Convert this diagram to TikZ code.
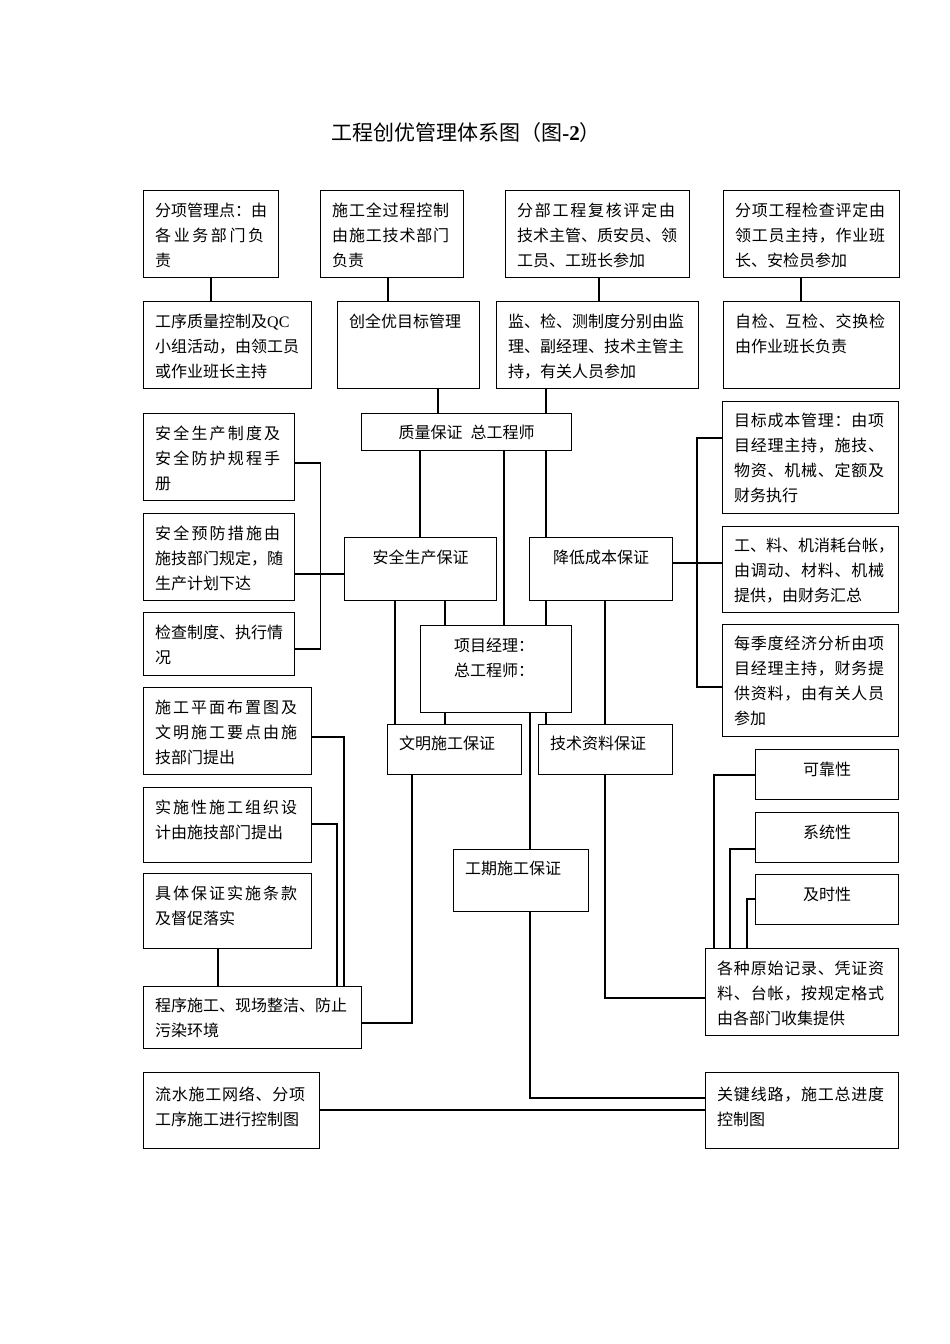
\documentclass[tikz,border=0pt]{standalone}
\usepackage{fontspec}
\newfontfamily\cjk{Noto Sans CJK SC}
\newfontfamily\tnr{Liberation Serif}
\def\jlgobble#1{}
\def\jlA#1#2{#1\ifx\relax#2\expandafter\jlgobble\else\hfill\expandafter\jlA\fi#2}
\newcommand\jl[2]{\hbox to #1pt{\jlA#2\relax}}
\tikzset{
  bx/.style={draw, line width=1.1pt, inner sep=0pt, anchor=north west},
  tx/.style={inner sep=0pt, align=left, anchor=north west, font=\cjk\fontsize{16}{25}\selectfont},
  txc/.style={inner sep=0pt, align=center, anchor=north, font=\cjk\fontsize{16}{25}\selectfont},
  ln/.style={line width=1.1pt},
  thk/.style={line width=2.6pt},
  mid/.style={line width=1.8pt},
}
\newcommand\mybox[5]{\node[bx, minimum width=#4pt, minimum height=#5pt] (#1) at (#2,#3) {};}
\begin{document}
\begin{tikzpicture}[x=1pt,y=-1pt]
\useasboundingbox (0,0) rectangle (950,1344);
\node[font=\cjk\fontsize{21}{25}\selectfont, inner sep=0pt] (title) at (466,133) {工程创优管理体系图（图{\tnr\bfseries -2}）};

% boxes
\mybox{a1}{143}{190}{135}{87}
\mybox{a2}{320}{190}{143}{87}
\mybox{a3}{505}{190}{184}{87}
\mybox{a4}{723}{190}{176}{87}
\mybox{b1}{143}{301}{168}{87}
\mybox{b2}{337}{301}{142}{87}
\mybox{b3}{496}{301}{202}{87}
\mybox{b4}{723}{301}{176}{87}
\mybox{zl}{361}{413}{210}{37}
\mybox{sa}{344}{537}{152}{63}
\mybox{jd}{529}{537}{143}{63}
\mybox{pm}{420}{625}{151}{87}
\mybox{wm}{387}{724}{134}{50}
\mybox{js}{538}{724}{134}{50}
\mybox{gq}{453}{849}{135}{62}
\mybox{s1}{143}{413}{151}{87}
\mybox{s2}{143}{513}{151}{87}
\mybox{s3}{143}{612}{151}{63}
\mybox{c1}{722}{401}{176}{112}
\mybox{c2}{722}{526}{176}{86}
\mybox{c3}{722}{624}{176}{112}
\mybox{w1}{143}{687}{168}{87}
\mybox{w2}{143}{787}{168}{75}
\mybox{w3}{143}{873}{168}{75}
\mybox{w4}{143}{986}{218}{62}
\mybox{q1}{755}{749}{143}{50}
\mybox{q2}{755}{812}{143}{50}
\mybox{q3}{755}{874}{143}{50}
\mybox{r4}{705}{948}{193}{87}
\mybox{l1}{143}{1072}{176}{76}
\mybox{r5}{705}{1072}{193}{76}

% texts
\node[tx] (a1t) at ([xshift=12pt,yshift=-13pt]a1.north west) {分项管理点：由\\\jl{109}{各业务部门负}\\责};
\node[tx] (a2t) at ([xshift=12pt,yshift=-13pt]a2.north west) {\jl{117}{施工全过程控制}\\\jl{117}{由施工技术部门}\\负责};
\node[tx] (a3t) at ([xshift=12pt,yshift=-13pt]a3.north west) {\jl{158}{分部工程复核评定由}\\技术主管、质安员、领\\工员、工班长参加};
\node[tx] (a4t) at ([xshift=12pt,yshift=-13pt]a4.north west) {\jl{150}{分项工程检查评定由}\\\jl{150}{领工员主持，作业班}\\长、安检员参加};
\node[tx] (b1t) at ([xshift=12pt,yshift=-13pt]b1.north west) {工序质量控制及{\tnr QC}\\小组活动，由领工员\\或作业班长主持};
\node[tx] (b2t) at ([xshift=12pt,yshift=-13pt]b2.north west) {创全优目标管理};
\node[tx] (b3t) at ([xshift=12pt,yshift=-13pt]b3.north west) {监、检、测制度分别由监\\理、副经理、技术主管主\\持，有关人员参加};
\node[tx] (b4t) at ([xshift=12pt,yshift=-13pt]b4.north west) {\jl{150}{自检、互检、交换检}\\由作业班长负责};
\node[txc] (zlt) at ([yshift=-12pt]zl.north) {质量保证\hspace{0.5em}总工程师};
\node[txc] (sat) at ([yshift=-13pt]sa.north) {安全生产保证};
\node[txc] (jdt) at ([yshift=-13pt]jd.north) {降低成本保证};
\node[tx] (pmt) at ([xshift=34pt,yshift=-13pt]pm.north west) {项目经理：\\总工程师：};
\node[tx] (wmt) at ([xshift=12pt,yshift=-12pt]wm.north west) {文明施工保证};
\node[tx] (jst) at ([xshift=12pt,yshift=-12pt]js.north west) {技术资料保证};
\node[tx] (gqt) at ([xshift=12pt,yshift=-12pt]gq.north west) {工期施工保证};
\node[tx] (s1t) at ([xshift=12pt,yshift=-13pt]s1.north west) {\jl{125}{安全生产制度及}\\\jl{125}{安全防护规程手}\\册};
\node[tx] (s2t) at ([xshift=12pt,yshift=-13pt]s2.north west) {\jl{125}{安全预防措施由}\\施技部门规定，随\\生产计划下达};
\node[tx] (s3t) at ([xshift=12pt,yshift=-13pt]s3.north west) {检查制度、执行情\\况};
\node[tx] (c1t) at ([xshift=12pt,yshift=-12pt]c1.north west) {\jl{150}{目标成本管理：由项}\\\jl{150}{目经理主持，施技、}\\\jl{150}{物资、机械、定额及}\\财务执行};
\node[tx] (c2t) at ([xshift=12pt,yshift=-12pt]c2.north west) {工、料、机消耗台帐，\\\jl{150}{由调动、材料、机械}\\提供，由财务汇总};
\node[tx] (c3t) at ([xshift=12pt,yshift=-12pt]c3.north west) {\jl{150}{每季度经济分析由项}\\\jl{150}{目经理主持，财务提}\\\jl{150}{供资料，由有关人员}\\参加};
\node[tx] (w1t) at ([xshift=12pt,yshift=-13pt]w1.north west) {\jl{142}{施工平面布置图及}\\\jl{142}{文明施工要点由施}\\技部门提出};
\node[tx] (w2t) at ([xshift=12pt,yshift=-13pt]w2.north west) {\jl{142}{实施性施工组织设}\\计由施技部门提出};
\node[tx] (w3t) at ([xshift=12pt,yshift=-13pt]w3.north west) {\jl{142}{具体保证实施条款}\\及督促落实};
\node[tx] (w4t) at ([xshift=12pt,yshift=-12pt]w4.north west) {程序施工、现场整洁、防止\\污染环境};
\node[txc] (q1t) at ([yshift=-13pt]q1.north) {可靠性};
\node[txc] (q2t) at ([yshift=-13pt]q2.north) {系统性};
\node[txc] (q3t) at ([yshift=-13pt]q3.north) {及时性};
\node[tx] (r4t) at ([xshift=12pt,yshift=-13pt]r4.north west) {\jl{167}{各种原始记录、凭证资}\\\jl{167}{料、台帐，按规定格式}\\由各部门收集提供};
\node[tx] (l1t) at ([xshift=12pt,yshift=-15pt]l1.north west) {\jl{150}{流水施工网络、分项}\\工序施工进行控制图};
\node[tx] (r5t) at ([xshift=12pt,yshift=-15pt]r5.north west) {\jl{167}{关键线路，施工总进度}\\控制图};

% connectors
\draw[thk] ([xshift=68pt]a1.south west) -- ([xshift=68pt]b1.north west);
\draw[ln] ([xshift=68pt]a2.south west) -- ([xshift=51pt]b2.north west);
\draw[ln] ([xshift=94pt]a3.south west) -- ([xshift=103pt]b3.north west);
\draw[ln] ([xshift=78pt]a4.south west) -- ([xshift=78pt]b4.north west);
\draw[ln] ([xshift=101pt]b2.south west) -- ([xshift=77pt]zl.north west);
\draw[thk] ([xshift=50pt]b3.south west) -- ([xshift=185pt]zl.north west);
\draw[ln] ([xshift=59pt]zl.south west) -- ([xshift=76pt]sa.north west);
\draw[ln] ([xshift=143pt]zl.south west) -- ([xshift=84pt]pm.north west);
\draw[thk] ([xshift=185pt]zl.south west) -- ([xshift=17pt]jd.north west);
\draw[thk] ([xshift=17pt]jd.south west) -- ([xshift=126pt]pm.north west);
\draw[thk] ([xshift=126pt]pm.south west) -- ([xshift=8pt]js.north west);
\draw[ln] ([xshift=76pt]jd.south west) -- ([xshift=67pt]js.north west);
\draw[ln] ([xshift=101pt]sa.south west) -- ([xshift=25pt]pm.north west);
\draw[ln] ([xshift=51pt]sa.south west) -- ([xshift=8pt]wm.north west);
\draw[ln] ([xshift=25pt]pm.south west) -- ([xshift=58pt]wm.north west);
\draw[ln] ([xshift=110pt]pm.south west) -- ([xshift=77pt]gq.north west);
\draw[ln] ([xshift=77pt]gq.south west) |- ([yshift=-26pt]r5.north west);
\draw[ln] ([xshift=67pt]js.south west) |- ([yshift=-50pt]r4.north west);
\draw[ln] ([yshift=-26pt]jd.north east) -- ([yshift=-37pt]c2.north west);
\draw[ln] ([yshift=-37pt]c1.north west) -- ++(-25,0) |- ([yshift=-63pt]c3.north west);
\draw[ln] ([yshift=-50pt]s1.north east) -- ++(25,0) |- ([yshift=-37pt]s3.north east);
\draw[ln] ([yshift=-61pt]s2.north east) -- ([yshift=-37pt]sa.north west);
\draw[thk] ([yshift=-50pt]w1.north east) -| ([xshift=201pt]w4.north west);
\draw[ln] ([yshift=-37pt]w2.north east) -| ([xshift=194pt]w4.north west);
\draw[ln] ([xshift=75pt]w3.south west) -- ([xshift=75pt]w4.north west);
\draw[ln] ([xshift=25pt]wm.south west) |- ([yshift=-37pt]w4.north east);
\draw[thk] ([xshift=25pt]wm.south west) -- ++(0,249);
\draw[ln] ([xshift=9pt]r4.north west) |- ([yshift=-26pt]q1.north west);
\draw[ln] ([xshift=25pt]r4.north west) |- ([yshift=-37pt]q2.north west);
\draw[mid] ([xshift=42pt]r4.north west) |- ([yshift=-25pt]q3.north west);
\draw[thk] ([yshift=-38pt]l1.north east) -- ([yshift=-38pt]r5.north west);
\end{tikzpicture}
\end{document}
